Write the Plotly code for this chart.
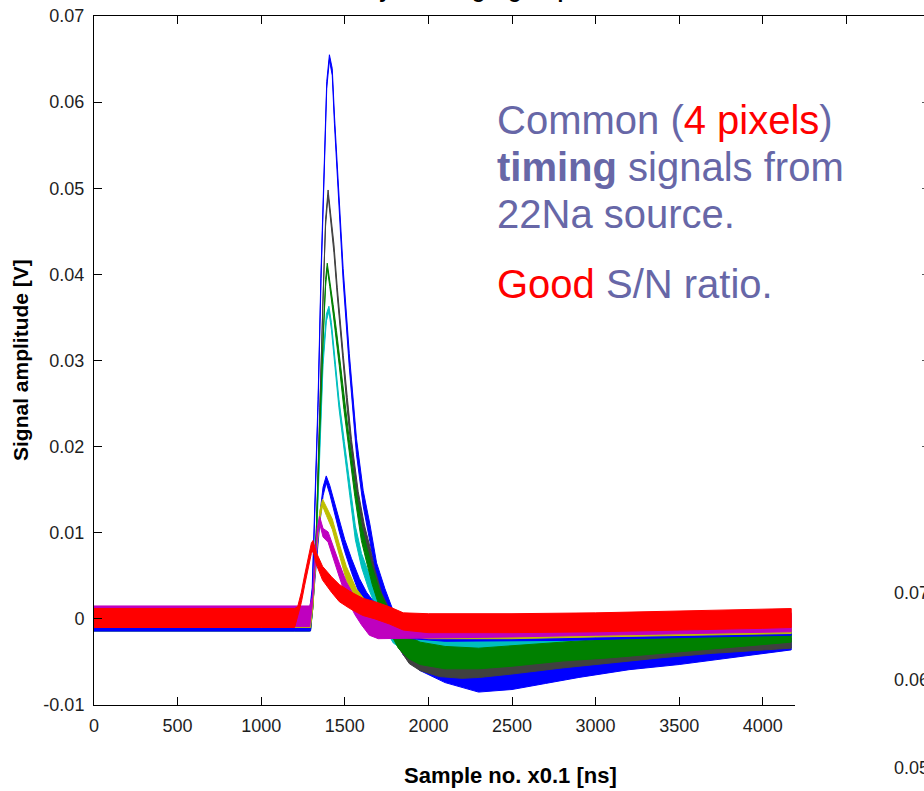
import plotly.graph_objects as go

# ---------------- data ----------------
# x = sample number (x0.1 ns); mid = band centre [V]; spread = half-width of the noise band [V]
x_blue1 = [0, 400, 800, 1200, 1290, 1305, 1320, 1340, 1358, 1370, 1380, 1392, 1408, 1425, 1438, 1452, 1467, 1490, 1527, 1570, 1610, 1650, 1690, 1740, 1796, 1850, 1950, 2100, 2300, 2500, 2700, 2900, 3200, 3500, 3800, 4170]
mid_blue1 = [-0.0002, -0.0002, -0.0002, -0.0002, -0.0002, 0.003, 0.012, 0.025, 0.040, 0.048, 0.055, 0.062, 0.0652, 0.0635, 0.058, 0.053, 0.0476, 0.040, 0.030, 0.020, 0.014, 0.010, 0.0055, 0.0025, -0.0005, -0.003, -0.0048, -0.0062, -0.0072, -0.0070, -0.0063, -0.0056, -0.0048, -0.0042, -0.0035, -0.0027]
spread_blue1 = [0.0012, 0.0012, 0.0012, 0.0012, 0.0012, 0.0006, 0.0005, 0.0005, 0.0005, 0.0005, 0.0005, 0.0004, 0.0003, 0.0004, 0.0005, 0.0005, 0.0006, 0.0007, 0.0008, 0.0009, 0.0009, 0.001, 0.001, 0.001, 0.0011, 0.0012, 0.0012, 0.0012, 0.0013, 0.0012, 0.0012, 0.0012, 0.0011, 0.0011, 0.0010, 0.0009]

x_gray = [0, 600, 1200, 1295, 1310, 1330, 1350, 1370, 1385, 1400, 1415, 1435, 1455, 1475, 1491, 1515, 1540, 1580, 1617, 1650, 1676, 1720, 1778, 1830, 1886, 1950, 2066, 2200, 2305, 2500, 2800, 3100, 3400, 3700, 4000, 4170]
mid_gray = [0, 0, 0, 0, 0.002, 0.010, 0.024, 0.038, 0.046, 0.0495, 0.047, 0.043, 0.038, 0.033, 0.030, 0.025, 0.020, 0.014, 0.010, 0.0075, 0.005, 0.002, -0.0005, -0.0025, -0.004, -0.0048, -0.0055, -0.0057, -0.0056, -0.0052, -0.0046, -0.0040, -0.0034, -0.0030, -0.0026, -0.0024]
spread_gray = [0.0012, 0.0012, 0.0012, 0.0012, 0.0005, 0.0005, 0.0005, 0.0005, 0.0004, 0.0003, 0.0004, 0.0005, 0.0005, 0.0006, 0.0006, 0.0007, 0.0008, 0.0008, 0.0009, 0.0009, 0.001, 0.001, 0.0011, 0.0011, 0.0012, 0.0012, 0.0012, 0.0012, 0.0012, 0.0012, 0.0011, 0.0011, 0.0011, 0.0010, 0.0010, 0.0010]

x_cyan = [0, 600, 1200, 1295, 1310, 1330, 1350, 1370, 1390, 1405, 1420, 1440, 1465, 1497, 1530, 1563, 1600, 1640, 1690, 1736, 1790, 1850, 1950, 2100, 2300, 2500, 2700, 3000, 3300, 3600, 3900, 4170]
mid_cyan = [0.0002, 0.0002, 0.0002, 0.0002, 0.002, 0.009, 0.020, 0.030, 0.035, 0.036, 0.034, 0.030, 0.025, 0.020, 0.015, 0.010, 0.0068, 0.0045, 0.002, 0.0, -0.0018, -0.0026, -0.0030, -0.0031, -0.0030, -0.0028, -0.0026, -0.0023, -0.0020, -0.0017, -0.0015, -0.0013]
spread_cyan = [0.0012, 0.0012, 0.0012, 0.0012, 0.0005, 0.0005, 0.0005, 0.0005, 0.0004, 0.0003, 0.0004, 0.0005, 0.0005, 0.0006, 0.0007, 0.0008, 0.0008, 0.0009, 0.0009, 0.001, 0.001, 0.001, 0.0009, 0.0009, 0.0009, 0.0009, 0.0009, 0.0009, 0.0009, 0.0009, 0.0009, 0.0009]

x_green = [0, 600, 1200, 1295, 1310, 1330, 1350, 1370, 1385, 1395, 1410, 1430, 1450, 1467, 1495, 1527, 1560, 1599, 1630, 1664, 1710, 1766, 1820, 1880, 1950, 2100, 2300, 2500, 2800, 3100, 3400, 3700, 4000, 4170]
mid_green = [-0.0002, -0.0002, -0.0002, -0.0002, 0.002, 0.010, 0.022, 0.033, 0.039, 0.041, 0.039, 0.036, 0.033, 0.030, 0.025, 0.020, 0.015, 0.010, 0.0075, 0.005, 0.0022, -0.0003, -0.0022, -0.0033, -0.0040, -0.0045, -0.0046, -0.0043, -0.0038, -0.0034, -0.0029, -0.0025, -0.0020, -0.0017]
spread_green = [0.0012, 0.0012, 0.0012, 0.0012, 0.0005, 0.0005, 0.0005, 0.0005, 0.0004, 0.0003, 0.0004, 0.0005, 0.0005, 0.0006, 0.0007, 0.0008, 0.0008, 0.0009, 0.0009, 0.001, 0.001, 0.0011, 0.0012, 0.0013, 0.0013, 0.0013, 0.0012, 0.0012, 0.0011, 0.0011, 0.0011, 0.0010, 0.0010, 0.0010]

x_blue2 = [0, 600, 1200, 1295, 1310, 1330, 1350, 1370, 1389, 1410, 1440, 1467, 1500, 1540, 1587, 1630, 1665, 1720, 1800, 1900, 2100, 2400, 2800, 3200, 3600, 4170]
mid_blue2 = [-0.0002, -0.0002, -0.0002, -0.0002, 0.002, 0.007, 0.0115, 0.0148, 0.0162, 0.015, 0.0128, 0.0107, 0.0085, 0.0062, 0.0038, 0.0022, 0.0012, 0.0002, -0.0008, -0.0013, -0.0015, -0.0015, -0.0014, -0.0012, -0.0010, -0.0008]
spread_blue2 = [0.0012, 0.0012, 0.0012, 0.0012, 0.0005, 0.0005, 0.0005, 0.0005, 0.0004, 0.0005, 0.0005, 0.0006, 0.0007, 0.0008, 0.0009, 0.0009, 0.001, 0.001, 0.001, 0.001, 0.0011, 0.0011, 0.0011, 0.0011, 0.0011, 0.0011]

x_yellow = [0, 600, 1200, 1295, 1310, 1330, 1350, 1367, 1390, 1425, 1470, 1509, 1569, 1620, 1700, 1800, 2000, 2500, 3000, 3500, 4170]
mid_yellow = [0.0002, 0.0002, 0.0002, 0.0002, 0.002, 0.008, 0.012, 0.0135, 0.0125, 0.011, 0.0078, 0.0053, 0.0026, 0.0012, 0.0, -0.0008, -0.0012, -0.0012, -0.0010, -0.0008, -0.0006]
spread_yellow = [0.0012, 0.0012, 0.0012, 0.0012, 0.0005, 0.0005, 0.0005, 0.0004, 0.0005, 0.0006, 0.0007, 0.0008, 0.0009, 0.001, 0.001, 0.001, 0.0011, 0.0011, 0.0011, 0.0011, 0.0011]

x_magenta = [0, 600, 1200, 1290, 1305, 1320, 1335, 1349, 1370, 1400, 1425, 1470, 1509, 1560, 1600, 1647, 1700, 1800, 2000, 2500, 3000, 3500, 4170]
mid_magenta = [0.0003, 0.0003, 0.0003, 0.0003, 0.002, 0.0065, 0.010, 0.0115, 0.010, 0.0095, 0.008, 0.0055, 0.0034, 0.0015, 0.0003, -0.0009, -0.0012, -0.0012, -0.0011, -0.0010, -0.0008, -0.0006, -0.0004]
spread_magenta = [0.0012, 0.0012, 0.0012, 0.0012, 0.0005, 0.0005, 0.0005, 0.0004, 0.0005, 0.0006, 0.0007, 0.0008, 0.0009, 0.001, 0.001, 0.001, 0.0011, 0.0011, 0.0011, 0.0011, 0.0011, 0.0011, 0.0011]

x_red = [0, 600, 1000, 1200, 1218, 1240, 1260, 1280, 1300, 1310, 1330, 1367, 1420, 1467, 1530, 1607, 1680, 1767, 1850, 2000, 2500, 3000, 3500, 4000, 4170]
mid_red = [0.0001, 0.0001, 0.0001, 0.0001, 0.0008, 0.0025, 0.0045, 0.0065, 0.0082, 0.0085, 0.0070, 0.0053, 0.0040, 0.0030, 0.0022, 0.0014, 0.0010, 0.0004, -0.0003, -0.0005, -0.0005, -0.0004, -0.0002, 0.0000, 0.0001]
spread_red = [0.0011, 0.0011, 0.0011, 0.0011, 0.0006, 0.0006, 0.0006, 0.0006, 0.0006, 0.0006, 0.0007, 0.0008, 0.0009, 0.001, 0.001, 0.001, 0.001, 0.001, 0.001, 0.0011, 0.0011, 0.0011, 0.0011, 0.0011, 0.0011]

series_colors = ["#0000FF", "#404040", "#00BFBF", "#008000", "#0000FF", "#BFBF00", "#BF00BF", "#FF0000"]

y_tickvals = [-0.01, 0.0, 0.01, 0.02, 0.03, 0.04, 0.05, 0.06, 0.07]
y_ticktext = ["-0.01", "0", "0.01", "0.02", "0.03", "0.04", "0.05", "0.06", "0.07"]
x_tickvals = [0, 500, 1000, 1500, 2000, 2500, 3000, 3500, 4000, 4500]
x_ticktext = ["0", "500", "1000", "1500", "2000", "2500", "3000", "3500", "4000", "4500"]
side_labels = ["0.07", "0.06", "0.05"]

# ---------------- layout geometry (pixels) ----------------
W, H = 924, 791
PL, PT, PB = 94, 16, 705
PR = W
X_PER_PX = 500 / 83.6
X_MAX = (PR - PL) * X_PER_PX


def xp(px):
    return (px - PL) / (PR - PL)


def yp(py):
    return (PB - py) / (PB - PT)


FONT = "Liberation Sans, Arial, sans-serif"
TXT = "#6767A7"

series = [
    (x_blue1, mid_blue1, spread_blue1),
    (x_gray, mid_gray, spread_gray),
    (x_cyan, mid_cyan, spread_cyan),
    (x_green, mid_green, spread_green),
    (x_blue2, mid_blue2, spread_blue2),
    (x_yellow, mid_yellow, spread_yellow),
    (x_magenta, mid_magenta, spread_magenta),
    (x_red, mid_red, spread_red),
]

fig = go.Figure()
for (xs, mids, spreads), col in zip(series, series_colors):
    assert len(xs) == len(mids) == len(spreads), (len(xs), len(mids), len(spreads))
    hi = [m + s for m, s in zip(mids, spreads)]
    lo = [m - s for m, s in zip(mids, spreads)]
    fig.add_trace(go.Scatter(
        x=list(xs) + list(xs)[::-1],
        y=hi + lo[::-1],
        mode="lines", fill="toself", fillcolor=col,
        line=dict(color=col, width=1),
        hoverinfo="skip", showlegend=False,
    ))

# invisible trace to hold the right-hand (mirrored) tick marks
fig.add_trace(go.Scatter(x=[0], y=[0], yaxis="y2", mode="none", showlegend=False, hoverinfo="skip"))

tickfont = dict(family=FONT, size=18, color="#1e1e1e")

fig.update_layout(
    width=W, height=H,
    margin=dict(l=PL, r=W - PR, t=PT, b=H - PB, pad=0),
    paper_bgcolor="white", plot_bgcolor="white",
    showlegend=False,
    xaxis=dict(range=[0, X_MAX], showgrid=False, zeroline=False,
               showline=True, linecolor="black", linewidth=1, mirror="ticks",
               ticks="inside", ticklen=8, tickcolor="black",
               tickvals=x_tickvals, ticktext=x_ticktext, tickfont=tickfont,
               ticklabelstandoff=4),
    yaxis=dict(range=[-0.01, 0.07], showgrid=False, zeroline=False,
               showline=True, linecolor="black", linewidth=1, mirror=False,
               ticks="inside", ticklen=8, tickcolor="black",
               tickvals=y_tickvals, ticktext=y_ticktext, tickfont=tickfont,
               ticklabelstandoff=5),
    yaxis2=dict(range=[-0.01, 0.07], overlaying="y", side="right", anchor="x",
                showgrid=False, zeroline=False, showline=False,
                ticks="inside", ticklen=2, tickcolor="#555",
                tickvals=y_tickvals, showticklabels=False),
)

# white panel covering the lower-right corner (another picture on the slide)
fig.add_shape(type="rect", xref="paper", yref="paper",
              x0=xp(795), x1=xp(W + 20), y0=yp(H + 20), y1=yp(492),
              fillcolor="white", line=dict(width=0), layer="above")

ann = []
# cropped title (only the descenders reach into the picture)
ann.append(dict(text="<b>Summary of timing signal pulses</b>", x=xp(293), y=yp(-10),
                xanchor="left", yanchor="middle", font=dict(family=FONT, size=21, color="black")))
# axis titles
ann.append(dict(text="<b>Sample no. x0.1 [ns]</b>", x=xp(511), y=yp(775),
                xanchor="center", yanchor="middle", font=dict(family=FONT, size=22, color="black")))
ann.append(dict(text="<b>Signal amplitude [V]</b>", x=xp(20), y=yp(360), textangle=-90,
                xanchor="center", yanchor="middle", font=dict(family=FONT, size=21, color="black")))
# commentary text
big = dict(family=FONT, size=40, color=TXT)
lines = [
    ('Common (<span style="color:#FF0000">4 pixels</span>)', 120),
    ("<b>timing</b> signals from", 167),
    ("22Na source.", 214),
    ('<span style="color:#FF0000">Good</span> S/N ratio.', 284),
]
for t, py in lines:
    ann.append(dict(text=t, x=xp(495), y=yp(py), xanchor="left", yanchor="middle", font=big))
# labels of the neighbouring picture
for lab, py in zip(side_labels, [593, 680, 768]):
    ann.append(dict(text=lab, x=xp(892), y=yp(py), xanchor="left", yanchor="middle", font=tickfont))

for a in ann:
    a.update(xref="paper", yref="paper", showarrow=False)
fig.update_layout(annotations=ann)

fig.write_html("out.html")
